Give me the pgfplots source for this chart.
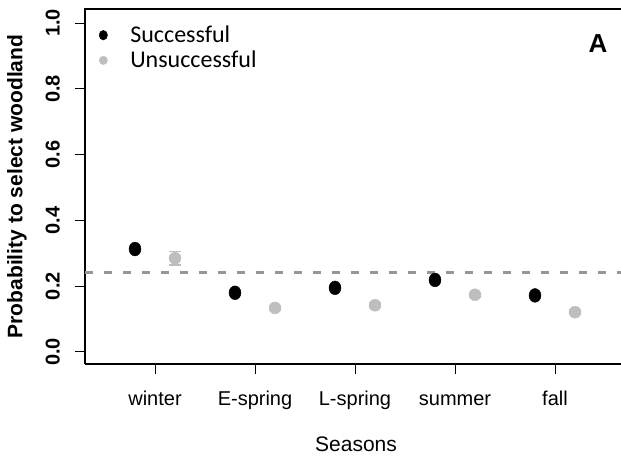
\documentclass[border=0pt]{standalone}
\usepackage{pgfplots}
\pgfplotsset{compat=1.18}
\usepackage{fontspec}
\setmainfont{Liberation Sans}
\newfontfamily\carlito{Carlito}
\definecolor{ugray}{RGB}{190,190,190}
\definecolor{dgray}{RGB}{150,150,150}
\begin{document}
\begin{tikzpicture}
\path[use as bounding box] (-85pt,-95pt) rectangle (536pt,364pt);
\begin{axis}[
  name=ax,
  at={(0pt,0pt)}, anchor=south west,
  scale only axis, width=536pt, height=355pt,
  xmin=0.3, xmax=5.66, ymin=-0.0365, ymax=1.0426,
  axis x line=box, axis y line=left, xtick pos=bottom, ytick pos=left,
  axis line style={-, line width=1.8pt},
  tick style={line width=1pt, black},
  tick align=outside, major tick length=10pt,
  xtick={1,2,3,4,5},
  xticklabels={winter,E-spring,L-spring,summer,fall},
  ytick={0,0.2,0.4,0.6,0.8,1.0},
  yticklabels={0.0,0.2,0.4,0.6,0.8,1.0},
  /pgf/number format/assume math mode=true,
  xticklabel style={font=\fontsize{20}{24}\selectfont, yshift=-13pt, text height=14.5pt, text depth=4pt},
  yticklabel style={font=\bfseries\fontsize{20}{24}\selectfont, xshift=-15pt, rotate=90, anchor=south, inner sep=0pt},
  xlabel={Seasons},
  ylabel={Probability to select woodland},
  every axis x label/.style={at={(rel axis cs:0.5056,0)}, yshift=-80pt, anchor=center, font=\fontsize{21}{25}\selectfont},
  every axis y label/.style={at={(rel axis cs:0,0.5)}, xshift=-68pt, rotate=90, anchor=center, font=\bfseries\fontsize{21}{25}\selectfont},
  clip=false,
  legend style={draw=none, fill=none, at={(rel axis cs:0.026,0.958)}, anchor=north west, font=\carlito\fontsize{24}{28}\selectfont, row sep=3pt, inner sep=0pt},
  legend cell align=left,
  legend image code/.code={\draw[draw=none, fill=none] (0pt,0pt) -- (28pt,0pt); \draw[#1, only marks, mark size=4.2pt] plot coordinates {(3pt,0pt)};},
]
\addplot[only marks, mark=*, black, mark size=6pt, mark options={yscale=1.15},
  error bars/.cd, y dir=both, y explicit, error mark options={rotate=90, mark size=5pt, line width=1pt}, error bar style={line width=1pt}]
  coordinates {
  (0.8,0.313) +- (0,0.006)
  (1.8,0.180) +- (0,0.005)
  (2.8,0.195) +- (0,0.005)
  (3.8,0.219) +- (0,0.006)
  (4.8,0.172) +- (0,0.005)
  };
\addlegendentry{Successful}
\addplot[only marks, mark=*, ugray, mark size=6pt,
  error bars/.cd, y dir=both, y explicit, error mark options={rotate=90, mark size=6pt, line width=1.5pt}, error bar style={line width=1.5pt}]
  coordinates {
  (1.2,0.285) +- (0,0.020)
  (2.2,0.134) +- (0,0.007)
  (3.2,0.142) +- (0,0.007)
  (4.2,0.174) +- (0,0.007)
  (5.2,0.121) +- (0,0.006)
  };
\addlegendentry{Unsuccessful}
\addplot[dgray, line width=3pt, dash pattern=on 8pt off 11pt, forget plot]
  coordinates {(0.3,0.243) (5.66,0.243)};
\node[font=\bfseries\fontsize{26}{30}\selectfont] at (rel axis cs:0.957,0.904) {A};
\end{axis}
\draw[line width=2.4pt, black] (-0.9pt,355pt) -- (536pt,355pt);
\end{tikzpicture}
\end{document}
